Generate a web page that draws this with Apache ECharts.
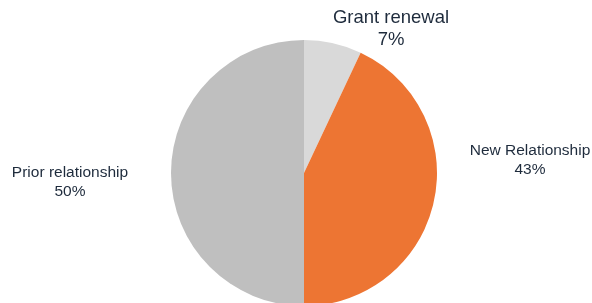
<!DOCTYPE html>
<html>
<head>
    <meta charset="UTF-8">
    <title>Relationship share</title>
    <script src="https://cdn.jsdelivr.net/npm/echarts@6/dist/echarts.min.js"></script>
</head>
<body style="margin:0;background:#fff;">
    <div id="main" style="width:592px;height:303px;"></div>
    <script type="text/javascript">
        // 数据
        var categories = ['Grant renewal', 'New Relationship', 'Prior relationship'];
        var shares = [7, 43, 50];
        var colors = ['#d9d9d9', '#ed7533', '#bfbfbf'];

        // 标签位置 (x, y 中心)
        var labelPos = [[391, 29], [530, 160], [70, 182]];
        var labelSize = [18.5, 15.5, 15.5];

        var myChart = echarts.init(document.getElementById('main'));

        var pieData = categories.map(function (name, i) {
            return {
                name: name,
                value: shares[i],
                itemStyle: { color: colors[i] },
                label: { fontSize: labelSize[i], lineHeight: labelSize[i] + 3 }
            };
        });

        var option = {
            animation: false,
            series: [
                {
                    type: 'pie',
                    center: [304, 173],
                    radius: [0, 133],
                    startAngle: 90,
                    clockwise: true,
                    data: pieData,
                    itemStyle: { borderWidth: 0 },
                    label: {
                        show: true,
                        position: 'outside',
                        formatter: '{b}\n{d}%',
                        color: '#1e2b3c',
                        fontFamily: 'Arial, Liberation Sans, sans-serif',
                        align: 'center',
                        overflow: 'none'
                    },
                    labelLine: { show: false },
                    labelLayout: function (params) {
                        var p = labelPos[params.dataIndex];
                        return { x: p[0], y: p[1], align: 'center', verticalAlign: 'middle' };
                    }
                }
            ]
        };

        myChart.setOption(option);
    </script>
</body>
</html>
